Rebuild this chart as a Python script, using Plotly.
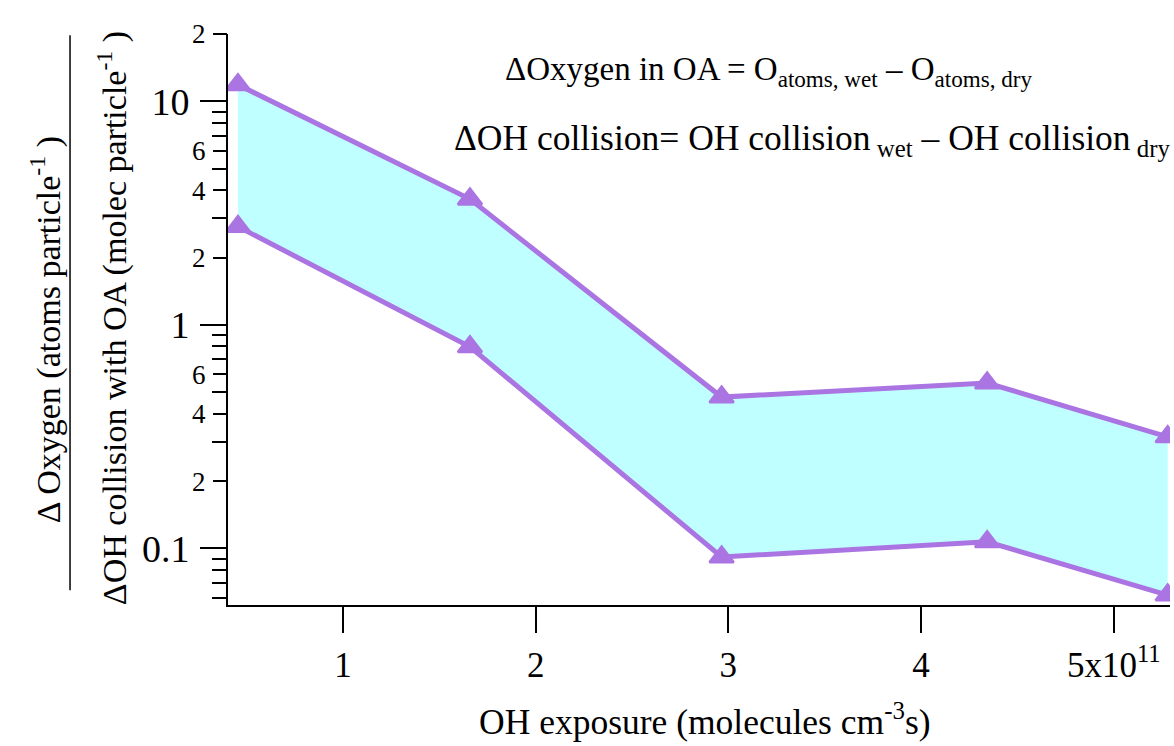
import plotly.graph_objects as go

# OH exposure (x 10^11 molecules cm^-3 s)
oh_exposure = [0.455, 1.659, 2.965, 4.343, 5.28]
# Upper and lower bounds of the ratio
upper_bound = [11.86, 3.65, 0.475, 0.549, 0.3155]
lower_bound = [2.75, 0.797, 0.0915, 0.107, 0.0618]

x_tick_vals = [1, 2, 3, 4, 5]
x_tick_text = ["1", "2", "3", "4", "5x10<sup>11</sup>"]
y_major_vals = [0.1, 1, 10]
y_major_text = ["0.1", "1", "10"]
y_mid_vals = [0.2, 0.4, 0.6, 2, 4, 6, 20]
y_mid_text = ["2", "4", "6", "2", "4", "6", "2"]
y_minor_vals = [0.06, 0.07, 0.08, 0.09, 0.3, 0.5, 0.7, 0.8, 0.9,
                3, 5, 7, 8, 9]

FONT = "Liberation Serif"
LINE_COLOR = "rgb(170,117,226)"
FILL_COLOR = "rgb(192,255,255)"


def serif(size):
    return dict(family=FONT, size=size, color="black")


fig = go.Figure()

# shaded band between the two bounds
fig.add_trace(go.Scatter(
    x=oh_exposure + oh_exposure[::-1],
    y=upper_bound + lower_bound[::-1],
    fill="toself", fillcolor=FILL_COLOR, mode="none",
    hoverinfo="skip", showlegend=False,
))

for series in (upper_bound, lower_bound):
    fig.add_trace(go.Scatter(
        x=oh_exposure, y=series, mode="lines+markers",
        line=dict(color=LINE_COLOR, width=5),
        marker=dict(symbol="triangle-up", size=21, color=LINE_COLOR,
                    line=dict(color=LINE_COLOR, width=2.5)),
        showlegend=False,
    ))

# carrier for the secondary (labelled minor tick) axis
fig.add_trace(go.Scatter(x=[None], y=[None], yaxis="y2",
                         showlegend=False, hoverinfo="skip"))

y_range = [-1.2535, 1.30103]

fig.update_layout(
    width=1174, height=746,
    margin=dict(l=228, r=4, t=34, b=141),
    paper_bgcolor="white", plot_bgcolor="white",
    font=serif(30),
    xaxis=dict(
        range=[0.4034, 5.292], showgrid=False, zeroline=False,
        showline=True, linecolor="black", linewidth=2,
        tickmode="array", tickvals=x_tick_vals, ticktext=x_tick_text,
        ticks="outside", ticklen=26, tickwidth=2, tickcolor="black",
        tickfont=serif(35), ticklabelstandoff=2,
    ),
    yaxis=dict(
        type="log", range=y_range, showgrid=False, zeroline=False,
        showline=True, linecolor="black", linewidth=2,
        tickmode="array", tickvals=y_major_vals, ticktext=y_major_text,
        ticks="outside", ticklen=26, tickwidth=2, tickcolor="black",
        tickfont=serif(38), ticklabelstandoff=3,
        minor=dict(tickmode="array", tickvals=y_minor_vals,
                   ticks="outside", ticklen=14, tickwidth=2,
                   tickcolor="black", showgrid=False),
    ),
    yaxis2=dict(
        type="log", range=y_range, overlaying="y", side="left",
        showgrid=False, zeroline=False, showline=False,
        tickmode="array", tickvals=y_mid_vals, ticktext=y_mid_text,
        ticks="outside", ticklen=14, tickwidth=2, tickcolor="black",
        tickfont=serif(27), ticklabelstandoff=2,
    ),
)

annotations = [
    dict(text="ΔOxygen in OA = O<sub>atoms, wet</sub> – O<sub>atoms, dry</sub>",
         x=0.574, y=0.9335, xanchor="center", yanchor="middle",
         font=serif(33)),
    dict(text="ΔOH collision= OH collision<sub> wet</sub> – OH collision<sub> dry</sub>",
         x=1.003, y=0.8144, xanchor="right", yanchor="middle",
         font=serif(35.5)),
    dict(text="OH exposure (molecules cm<sup>-3</sup>s)",
         x=0.506, y=-0.2435, xanchor="center", yanchor="bottom",
         font=serif(35.5)),
    dict(text="Δ Oxygen (atoms particle<sup>-1</sup> )",
         x=-0.194, y=0.4816, xanchor="center", yanchor="middle",
         textangle=-90, font=serif(34)),
    dict(text="ΔOH collision with OA (molec particle<sup>-1</sup> )",
         x=-0.123, y=0.5026, xanchor="center", yanchor="middle",
         textangle=-90, font=serif(34)),
]
for a in annotations:
    a.update(xref="paper", yref="paper", showarrow=False)
fig.update_layout(annotations=annotations)

# fraction bar between the two axis-title lines
fig.add_shape(type="line", xref="paper", yref="paper",
              x0=-0.1677, x1=-0.1677, y0=0.026, y1=0.998,
              line=dict(color="black", width=1.5))

fig.write_html("out.html")
